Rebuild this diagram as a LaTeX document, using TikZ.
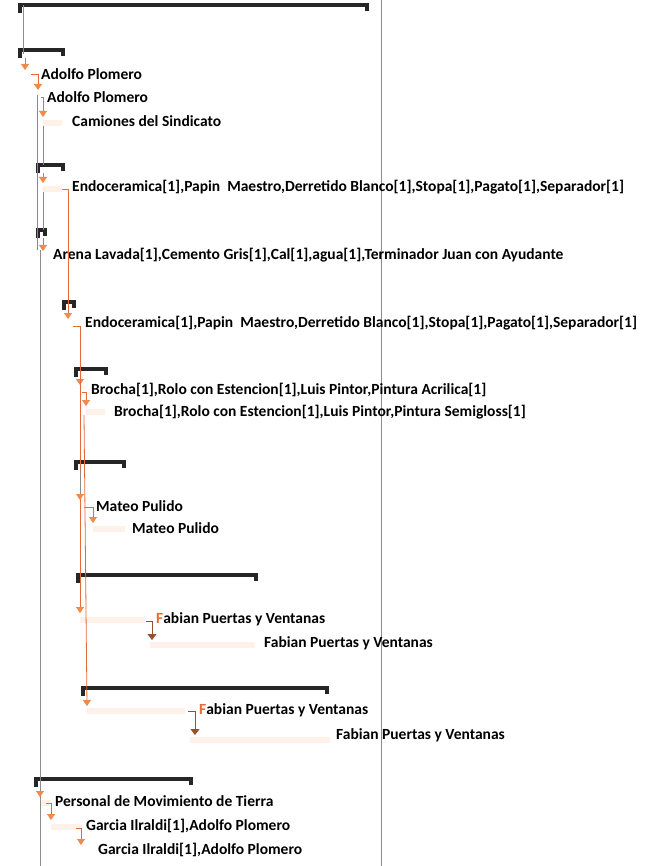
\documentclass[tikz,border=0pt]{standalone}
\usepackage{fontspec}
\setmainfont{Carlito}
\usetikzlibrary{arrows.meta}
\definecolor{deporange}{HTML}{E56A3A}
\definecolor{tiporange}{HTML}{F08A4B}
\definecolor{depbrown}{HTML}{9A4E2E}
\definecolor{peach}{HTML}{FEF1E9}
\definecolor{linegray}{HTML}{8C8C8C}

\begin{document}
\begin{tikzpicture}[x=1pt,y=-1pt,
    lbl/.style={anchor=west,inner sep=0pt,font=\fontsize{15.5}{17}\selectfont\bfseries},
    sumbar/.style={line width=3.2pt,black!85},
    taskbar/.style={fill=peach},
    dep/.style={deporange,line width=0.8pt,-{Triangle[width=8pt,length=6pt,color=tiporange,fill=tiporange]}},
    depb/.style={depbrown,line width=0.9pt,-{Triangle[width=9pt,length=6pt]}},
    gline/.style={linegray,line width=0.8pt},
    gdep/.style={linegray,line width=0.8pt,-{Triangle[width=8pt,length=6pt,color=tiporange,fill=tiporange]}}]

    \useasboundingbox (0,0) rectangle (656,866);

    \draw [gline,line width=1pt] (381,0) -- (381,866);

    \coordinate (b0) at (20,5);
    \coordinate (b1) at (20,50);
    \coordinate (b2) at (38,165);
    \coordinate (b3) at (38,230);
    \coordinate (b4) at (64,302);
    \coordinate (b5) at (76,369);
    \coordinate (b6) at (76,462);
    \coordinate (b7) at (78,575);
    \coordinate (b8) at (83,688);
    \coordinate (b9) at (36,779);

    \foreach \b/\w in {b0/347,b1/43,b2/25,b3/7,b4/10,b5/30,b6/48,b7/178,b8/244,b9/155} {
        \draw [sumbar] (\b) -- ++(\w,0);
        \draw [sumbar] ([yshift=2pt]\b) -- ++(0,10);
        \draw [sumbar] ([xshift=\w pt,yshift=2pt]\b) -- ++(0,8);
    }

    \coordinate (s1) at (25,70);
    \coordinate (s2) at (38,90);
    \coordinate (s3) at (43,117);
    \coordinate (s4) at (43,183);
    \coordinate (s5) at (43,251);
    \coordinate (s6) at (68,319);
    \coordinate (s7) at (80,385);
    \coordinate (s8) at (86,406);
    \coordinate (s9) at (80,500);
    \coordinate (s10) at (93,523);
    \coordinate (s11) at (80,613);
    \coordinate (s12) at (152,640);
    \coordinate (s13) at (87,706);
    \coordinate (s14) at (195,735);
    \coordinate (s15) at (40,797);
    \coordinate (s16) at (51,820);
    \coordinate (s17) at (81,845);

    \fill [taskbar] (80,617) rectangle (145,623);
    \fill [taskbar] (150,642) rectangle (255,648);
    \fill [taskbar] (87,708) rectangle (185,714);
    \fill [taskbar] (190,737) rectangle (330,743);
    \fill [taskbar] (43,120) rectangle (62,126);
    \fill [taskbar] (43,186) rectangle (62,192);
    \fill [taskbar] (86,409) rectangle (105,415);
    \fill [taskbar] (93,526) rectangle (125,532);
    \fill [taskbar] (40,800) rectangle (50,806);
    \fill [taskbar] (51,824) rectangle (80,830);

    \node [lbl] (t1) at (41,74) {Adolfo Plomero};
    \node [lbl] (t2) at (47,97) {Adolfo Plomero};
    \node [lbl] (t3) at (72,121) {Camiones del Sindicato};
    \node [lbl] (t4) at (72,187) {Endoceramica[1],Papin\ \ Maestro,Derretido Blanco[1],Stopa[1],Pagato[1],Separador[1]};
    \node [lbl] (t5) at (53,255) {Arena Lavada[1],Cemento Gris[1],Cal[1],agua[1],Terminador Juan con Ayudante};
    \node [lbl] (t6) at (85,323) {Endoceramica[1],Papin\ \ Maestro,Derretido Blanco[1],Stopa[1],Pagato[1],Separador[1]};
    \node [lbl] (t7) at (91,390) {Brocha[1],Rolo con Estencion[1],Luis Pintor,Pintura Acrilica[1]};
    \node [lbl] (t8) at (114,412) {Brocha[1],Rolo con Estencion[1],Luis Pintor,Pintura Semigloss[1]};
    \node [lbl] (t9) at (96,506) {Mateo Pulido};
    \node [lbl] (t10) at (132,528) {Mateo Pulido};
    \node [lbl] (t11) at (156,619) {\textcolor{deporange}{F}abian Puertas y Ventanas};
    \node [lbl] (t12) at (264,643) {Fabian Puertas y Ventanas};
    \node [lbl] (t13) at (199,710) {\textcolor{deporange}{F}abian Puertas y Ventanas};
    \node [lbl] (t14) at (336,735) {Fabian Puertas y Ventanas};
    \node [lbl] (t15) at (55,801) {Personal de Movimiento de Tierra};
    \node [lbl] (t16) at (86,826) {Garcia Ilraldi[1],Adolfo Plomero};
    \node [lbl] (t17) at (98,850) {Garcia Ilraldi[1],Adolfo Plomero};

    \draw [gline] ([xshift=3pt]b0) -- ([xshift=3pt,yshift=-4pt]b1);
    \draw [gdep] ([xshift=5pt,yshift=-8pt]b1) -- (s1);
    \draw [dep] (31,74) -| (s2);
    \draw [deporange,line width=0.8pt] (37,95) -- (37,250);
    \draw [gline] (40,250) -- (40,866);
    \draw [gdep] (41,97) -| (s3);
    \draw [gline] (43,126) -- ([xshift=5pt]b2);
    \draw [gdep] ([xshift=5pt,yshift=-8pt]b2) -- (s4);
    \draw [gline] (43,192) -- ([xshift=5pt]b3);
    \draw [gdep] ([xshift=5pt,yshift=-8pt]b3) -- (s5);
    \draw [dep] (62,189) -| (s6);
    \draw [gdep] ([xshift=4pt,yshift=-8pt]b5) -- (s7);
    \draw [dep] (73,326) -| (s11);
    \draw [dep] (82,392) -| (s8);
    \draw [dep] (84,415) -- (s13);
    \draw [gdep] ([xshift=4pt,yshift=-8pt]b6) -- (s9);
    \draw [dep] (84,507) -| (s10);
    \draw [depb] (146,621) -| (s12);
    \draw [depb] (188,711) -| (s14);
    \draw [gdep] ([xshift=4pt,yshift=-8pt]b9) -- (s15);
    \draw [dep] (46,803) -| (s16);
    \draw [dep] (76,828) -| (s17);

\end{tikzpicture}
\end{document}
